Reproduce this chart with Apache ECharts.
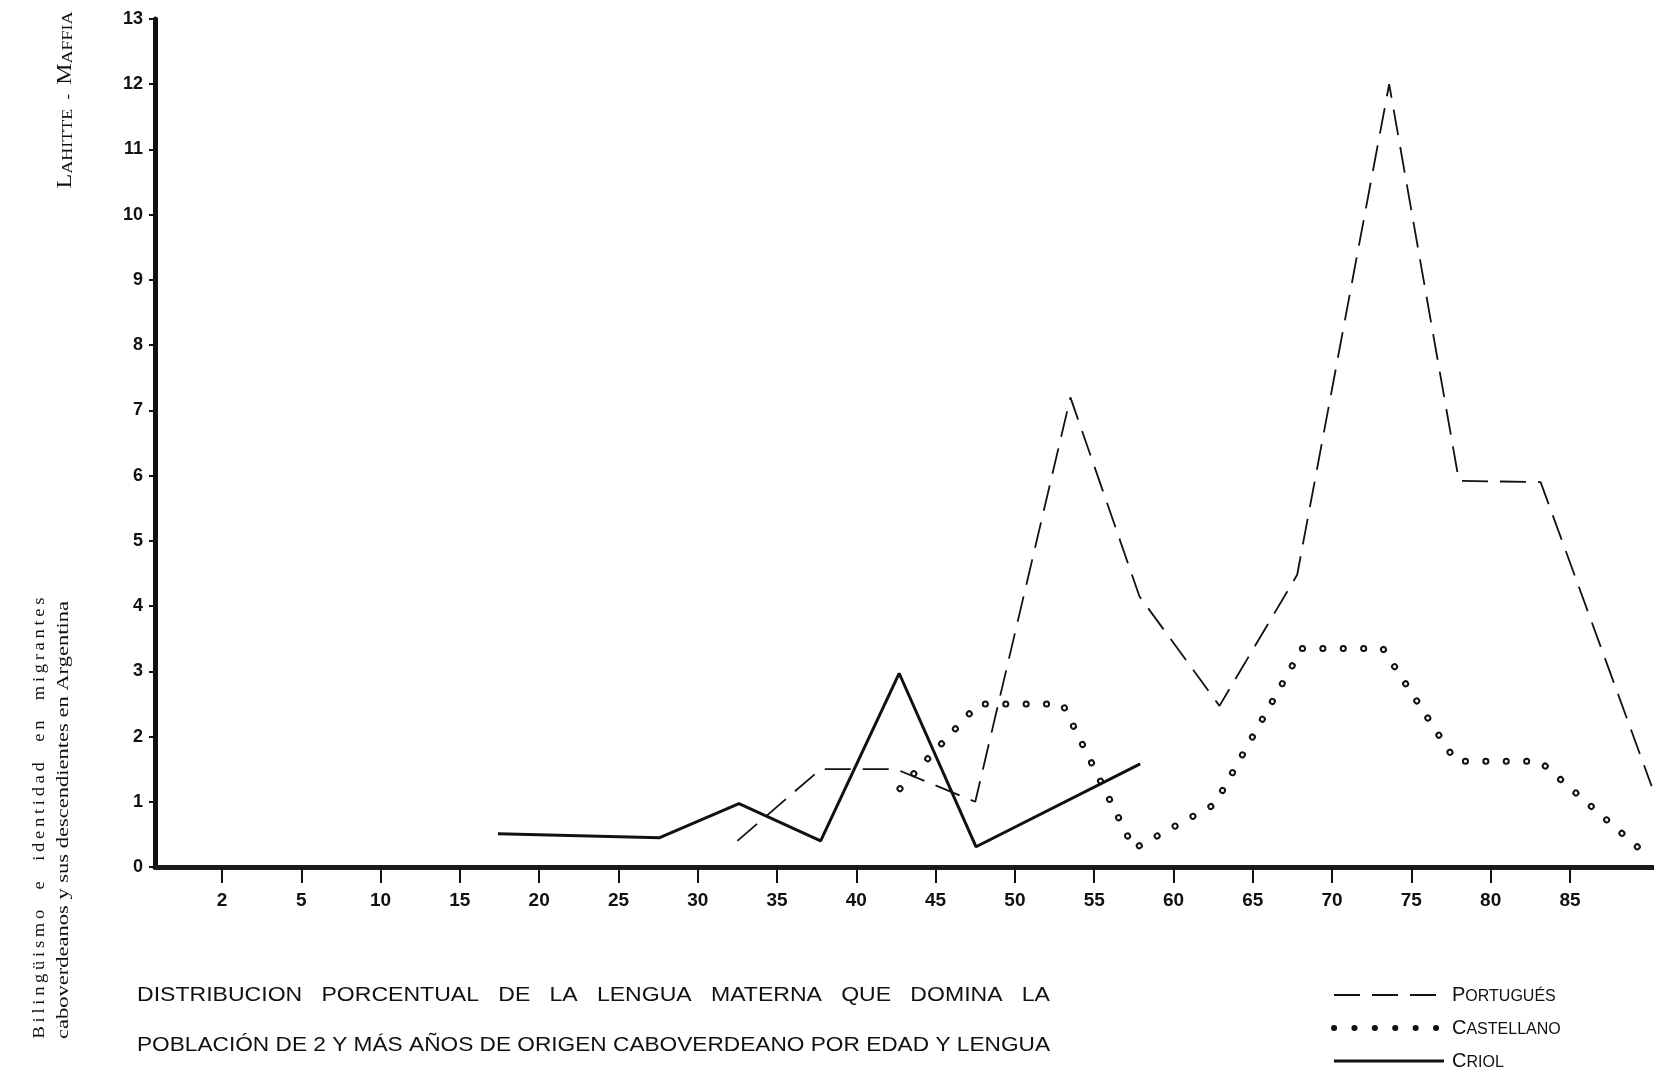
<!DOCTYPE html>
<html><head><meta charset="utf-8">
<script src="https://cdn.jsdelivr.net/npm/echarts@6/dist/echarts.min.js"></script>
<style>html,body{margin:0;padding:0;background:#fff}#c{width:1654px;height:1076px}</style>
</head><body><div id="c"></div>
<script>
// Tick labels of the age axis (positions are tick indices 0..17)
const ageLabels = ['2','5','10','15','20','25','30','35','40','45','50','55','60','65','70','75','80','85'];
const seriesNames = ['Portugués','Castellano','Criol'];
// x positions are expressed in tick-index units of the age axis
const portuguesX = [6.5, 7.55, 8.5, 9.5, 10.7, 11.57, 12.58, 13.56, 14.72, 15.6, 16.63, 18.03];
const portuguesY = [0.4, 1.5, 1.5, 1.0, 7.2, 4.15, 2.47, 4.48, 12.0, 5.92, 5.9, 1.24];
const castellanoX = [8.55, 9.54, 10.6, 11.5, 12.52, 13.62, 14.64, 15.56, 16.62, 17.99];
const castellanoY = [1.2, 2.5, 2.5, 0.28, 0.96, 3.35, 3.35, 1.62, 1.62, 0.16];
const criolX = [3.48, 5.52, 6.52, 7.55, 8.54, 9.51, 11.58];
const criolY = [0.51, 0.45, 0.97, 0.4, 2.97, 0.31, 1.58];

const title1 = 'DISTRIBUCION PORCENTUAL DE LA LENGUA MATERNA QUE DOMINA LA';
const title2 = 'POBLACIÓN DE 2 Y MÁS AÑOS DE ORIGEN CABOVERDEANO POR EDAD Y LENGUA';
const sideA = 'Bilingüismo e identidad en migrantes';
const sideB = 'caboverdeanos y sus descendientes en Argentina';

const zip = (xs, ys) => xs.map((x, i) => [x, ys[i]]);
const mctx = document.createElement('canvas').getContext('2d');
function textW(t, font) { mctx.font = font; return mctx.measureText(t).width; }
function letterSpaced(s) { return s.split(' ').map(w => w.split('').join('\u2009')).join('\u2009 \u2009 \u2009'); }

const t1 = title1.split(' ').join('   ');
const t1Font = '20px "Liberation Sans"';
const t2Font = '20px "Liberation Sans"';
const sA = letterSpaced(sideA);
const sFont = '16px "Liberation Serif"';
const capA = '20px "Liberation Serif"', capB = '15px "Liberation Serif"';
const authW = textW('L', capA) + textW('AHITTE  -  ', capB) + textW('M', capA) + textW('AFFIA', capB);

const chart = echarts.init(document.getElementById('c'), null, {renderer: 'canvas'});
const dotDash = [0.1, 20.3];
const black = '#111';
chart.setOption({
  animation: false,
  backgroundColor: '#ffffff',
  color: [black, black, black, black],
  grid: {left: 155, right: 0, top: 19, bottom: 209, outerBoundsMode: 'none'},
  xAxis: {
    type: 'value', min: -0.845, max: 18.06,
    axisLine: {show: true, onZero: false, lineStyle: {color: '#1a1a1a', width: 5}},
    axisTick: {show: true, customValues: ageLabels.map((l, i) => i), length: 16, lineStyle: {color: black, width: 2}},
    axisLabel: {customValues: ageLabels.map((l, i) => i), formatter: v => ageLabels[Math.round(v)], margin: 24,
      color: black, fontFamily: 'Liberation Sans', fontWeight: 'bold', fontSize: 19},
    splitLine: {show: false}
  },
  yAxis: {
    type: 'value', min: 0, max: 13, interval: 1,
    axisLine: {show: true, onZero: false, lineStyle: {color: black, width: 5}},
    axisTick: {show: true, length: 6, lineStyle: {color: black, width: 2}},
    axisLabel: {margin: 12, color: black, fontFamily: 'Liberation Sans', fontWeight: 'bold', fontSize: 18},
    splitLine: {show: false}
  },
  legend: {
    data: [
      {name: 'Portugués'},
      {name: 'Castellano', lineStyle: {width: 6, type: dotDash, cap: 'round', color: black}},
      {name: 'Criol', lineStyle: {width: 3, color: black}}
    ],
    orient: 'vertical', left: 1331, top: 985, height: 91, padding: 0,
    itemWidth: 110, itemHeight: 14, itemGap: 13,
    itemStyle: {color: 'rgba(0,0,0,0)', borderColor: 'rgba(0,0,0,0)', borderWidth: 0},
    formatter: n => '{a|' + n[0].toUpperCase() + '}{b|' + n.slice(1).toUpperCase() + '}',
    textStyle: {padding: [0, 0, 0, 3], rich: {
      a: {fontSize: 20, lineHeight: 20, fontFamily: 'Liberation Sans', color: black, verticalAlign: 'bottom'},
      b: {fontSize: 16, lineHeight: 20, fontFamily: 'Liberation Sans', color: black, verticalAlign: 'bottom', padding: [0, 0, 0, 0]}
    }}
  },
  series: [
    {name: 'Castellano', type: 'line', symbol: 'none', data: zip(castellanoX, castellanoY), z: 2,
      itemStyle: {color: black}, lineStyle: {color: black, width: 7, type: dotDash, cap: 'round'}},
    {name: 'Castellano-inner', type: 'line', symbol: 'none', data: zip(castellanoX, castellanoY), z: 3,
      itemStyle: {color: '#fff'}, lineStyle: {color: '#fff', width: 3, type: dotDash, cap: 'round'}},
    {name: 'Portugués', type: 'line', symbol: 'none', data: zip(portuguesX, portuguesY), z: 4,
      itemStyle: {color: black}, lineStyle: {color: black, width: 1.8, type: [26, 12]}},
    {name: 'Criol', type: 'line', symbol: 'none', data: zip(criolX, criolY), z: 5,
      itemStyle: {color: black}, lineStyle: {color: black, width: 3}}
  ],
  graphic: [
    {type: 'text', x: 137, y: 995, scaleX: 913 / textW(t1, t1Font),
      style: {text: t1, font: t1Font, fill: black, align: 'left', verticalAlign: 'middle'}},
    {type: 'text', x: 137, y: 1045, scaleX: 913 / textW(title2, t2Font),
      style: {text: title2, font: t2Font, fill: black, align: 'left', verticalAlign: 'middle'}},
    {type: 'text', x: 40, y: 818, rotation: Math.PI / 2, scaleX: 441 / textW(sA, sFont),
      style: {text: sA, font: sFont, fill: black, align: 'center', verticalAlign: 'middle'}},
    {type: 'text', x: 64, y: 820, rotation: Math.PI / 2, scaleX: 438 / textW(sideB, sFont),
      style: {text: sideB, font: sFont, fill: black, align: 'center', verticalAlign: 'middle'}},
    {type: 'text', x: 66, y: 100, rotation: Math.PI / 2, scaleX: 177 / authW,
      style: {text: '{a|L}{b|AHITTE  -  }{a|M}{b|AFFIA}', fill: black, align: 'center', verticalAlign: 'middle',
        rich: {a: {font: capA, fill: black, lineHeight: 20, verticalAlign: 'bottom'},
               b: {font: capB, fill: black, lineHeight: 20, verticalAlign: 'bottom'}}}}
  ]
});
</script></body></html>
